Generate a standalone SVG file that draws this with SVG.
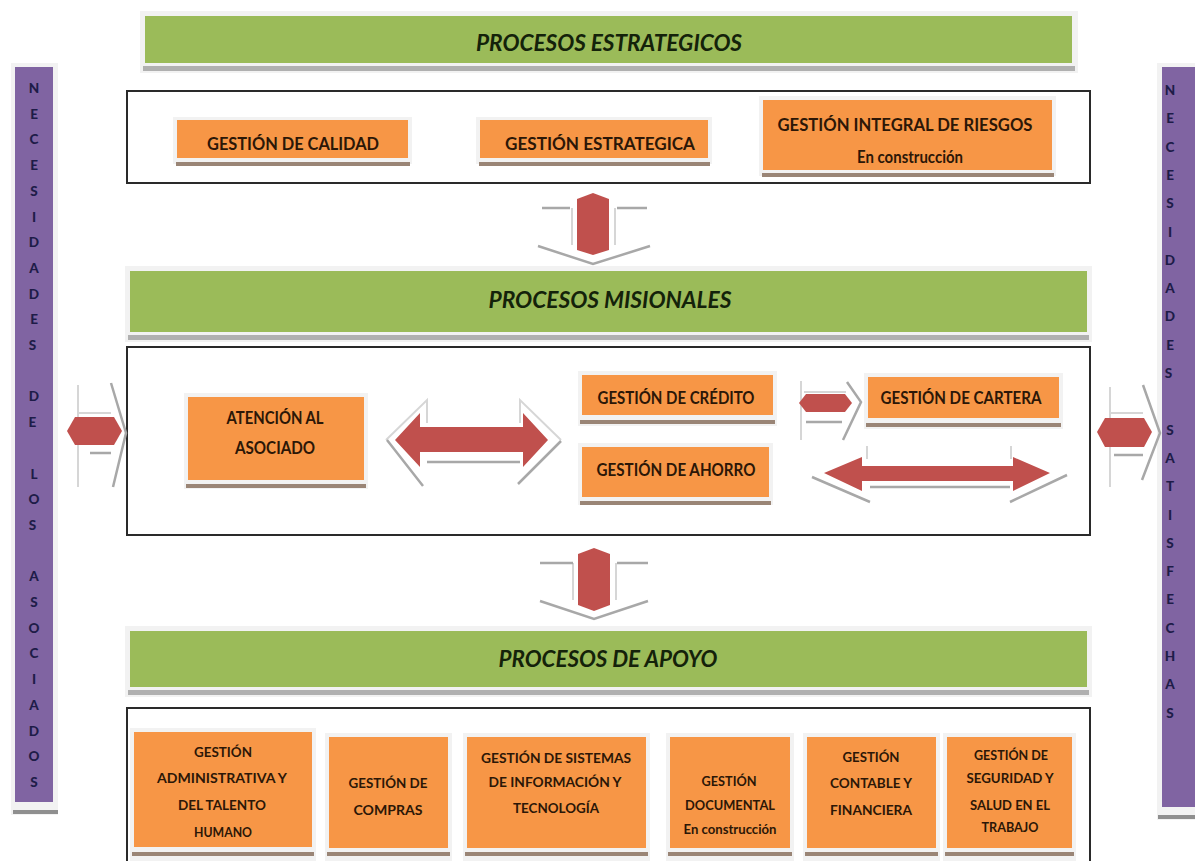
<svg xmlns="http://www.w3.org/2000/svg" width="1195" height="861" viewBox="0 0 1195 861">
<defs>
<style>
.t{font-family:"Lato","Liberation Sans",sans-serif;font-weight:700;fill:#2c1707;text-anchor:middle}
.f15{font-size:16.5px}
.f13{font-size:14px}
.f12{font-size:12.5px}
.ttl{font-family:"Lato","Liberation Sans",sans-serif;font-weight:700;font-style:italic;font-size:23px;fill:#14220a;text-anchor:middle}
.ltr{font-family:"Lato","Liberation Sans",sans-serif;font-weight:900;font-size:13.5px;fill:#1e1c48;text-anchor:middle}
.org{fill:#f79646}
.halo{fill:#f2f2f2}
.osh{fill:#9a8576}
.grn{fill:#9bbb59}
.gsh{fill:#b0b0b0}
.pur{fill:#8064a2}
.frame{fill:#ffffff;stroke:#2a2a2a;stroke-width:2}
.red{fill:#c0504d}
.gl{fill:none;stroke:#d6d6d6;stroke-width:2}
.gd{fill:none;stroke:#a8a8a8;stroke-width:2.5}
</style>
</defs>
<rect width="1195" height="861" fill="#ffffff"/>

<!-- side bars -->
<g id="left-bar">
<rect x="11" y="63" width="47" height="752" class="halo"/>
<rect x="13" y="810" width="45" height="4" fill="#8f8f8f"/>
<rect x="15" y="67" width="38" height="735" class="pur"/>
<text class="ltr">
<tspan x="34" y="93">N</tspan><tspan x="34" y="118.7">E</tspan><tspan x="34" y="144.4">C</tspan><tspan x="34" y="170.1">E</tspan><tspan x="34" y="195.8">S</tspan><tspan x="34" y="221.5">I</tspan><tspan x="34" y="247.2">D</tspan><tspan x="34" y="272.9">A</tspan><tspan x="34" y="298.6">D</tspan><tspan x="34" y="324.3">E</tspan><tspan x="34" y="350">S</tspan>
<tspan x="34" y="401.4">D</tspan><tspan x="34" y="427.1">E</tspan>
<tspan x="34" y="478.5">L</tspan><tspan x="34" y="504.2">O</tspan><tspan x="34" y="529.9">S</tspan>
<tspan x="34" y="581.3">A</tspan><tspan x="34" y="607">S</tspan><tspan x="34" y="632.7">O</tspan><tspan x="34" y="658.4">C</tspan><tspan x="34" y="684.1">I</tspan><tspan x="34" y="709.8">A</tspan><tspan x="34" y="735.5">D</tspan><tspan x="34" y="761.2">O</tspan><tspan x="34" y="786.9">S</tspan>
</text>
</g>
<g id="right-bar">
<rect x="1157" y="63" width="40" height="757" class="halo"/>
<rect x="1158" y="815" width="37" height="4" fill="#8f8f8f"/>
<rect x="1162" y="67" width="36" height="740" class="pur"/>
<text class="ltr">
<tspan x="1170" y="95">N</tspan><tspan x="1170" y="123.3">E</tspan><tspan x="1170" y="151.6">C</tspan><tspan x="1170" y="179.9">E</tspan><tspan x="1170" y="208.2">S</tspan><tspan x="1170" y="236.5">I</tspan><tspan x="1170" y="264.8">D</tspan><tspan x="1170" y="293.1">A</tspan><tspan x="1170" y="321.4">D</tspan><tspan x="1170" y="349.7">E</tspan><tspan x="1170" y="378">S</tspan>
<tspan x="1170" y="434.6">S</tspan><tspan x="1170" y="462.9">A</tspan><tspan x="1170" y="491.2">T</tspan><tspan x="1170" y="519.5">I</tspan><tspan x="1170" y="547.8">S</tspan><tspan x="1170" y="576.1">F</tspan><tspan x="1170" y="604.4">E</tspan><tspan x="1170" y="632.7">C</tspan><tspan x="1170" y="661">H</tspan><tspan x="1170" y="689.3">A</tspan><tspan x="1170" y="717.6">S</tspan>
</text>
</g>

<!-- banners -->
<g id="banner-estrategicos">
<rect x="140" y="11" width="938" height="62" class="halo"/>
<rect x="143" y="66" width="932" height="5" class="gsh"/>
<rect x="145" y="16" width="927" height="47" class="grn"/>
<text x="609" y="51" class="ttl" textLength="266" lengthAdjust="spacingAndGlyphs">PROCESOS ESTRATEGICOS</text>
</g>
<g id="banner-misionales">
<rect x="125" y="266" width="967" height="76" class="halo"/>
<rect x="128" y="335" width="961" height="5" class="gsh"/>
<rect x="130" y="271" width="957" height="61" class="grn"/>
<text x="610" y="308" class="ttl" textLength="243" lengthAdjust="spacingAndGlyphs">PROCESOS MISIONALES</text>
</g>
<g id="banner-apoyo">
<rect x="125" y="626" width="967" height="71" class="halo"/>
<rect x="128" y="690" width="961" height="5" class="gsh"/>
<rect x="130" y="631" width="957" height="56" class="grn"/>
<text x="608" y="667" class="ttl" textLength="219" lengthAdjust="spacingAndGlyphs">PROCESOS DE APOYO</text>
</g>

<!-- section frames -->
<rect id="frame-estrategicos" x="127" y="91" width="963" height="92" class="frame"/>
<rect id="frame-misionales" x="127" y="347" width="963" height="188" class="frame"/>
<rect id="frame-apoyo" x="127" y="708" width="963" height="170" class="frame"/>

<!-- estrategicos nodes -->
<g id="gestion-calidad">
<rect x="173" y="117" width="239" height="47" class="halo"/>
<rect x="176" y="162" width="234" height="4" class="osh"/>
<rect x="177" y="120" width="231" height="38" class="org"/>
<text x="293" y="150" class="t f15" textLength="172" lengthAdjust="spacingAndGlyphs">GESTIÓN DE CALIDAD</text>
</g>
<g id="gestion-estrategica">
<rect x="476" y="117" width="236" height="47" class="halo"/>
<rect x="479" y="162" width="231" height="4" class="osh"/>
<rect x="480" y="120" width="228" height="38" class="org"/>
<text x="600" y="150" class="t f15" textLength="190" lengthAdjust="spacingAndGlyphs">GESTIÓN ESTRATEGICA</text>
</g>
<g id="gestion-riesgos">
<rect x="759" y="96" width="297" height="80" class="halo"/>
<rect x="762" y="173" width="292" height="4" class="osh"/>
<rect x="763" y="100" width="289" height="70" class="org"/>
<text x="905" y="131" class="t f15" textLength="255" lengthAdjust="spacingAndGlyphs">GESTIÓN INTEGRAL DE RIESGOS</text>
<text x="910" y="163" class="t f15" textLength="106" lengthAdjust="spacingAndGlyphs">En construcción</text>
</g>

<!-- misionales nodes -->
<g id="atencion-asociado">
<rect x="184" y="393" width="184" height="96" class="halo"/>
<rect x="186" y="484" width="180" height="4" class="osh"/>
<rect x="188" y="397" width="176" height="83" class="org"/>
<text x="275" y="424" class="t f15" textLength="97" lengthAdjust="spacingAndGlyphs">ATENCIÓN AL</text>
<text x="275" y="454" class="t f15" textLength="80" lengthAdjust="spacingAndGlyphs">ASOCIADO</text>
</g>
<g id="gestion-credito">
<rect x="578" y="371" width="199" height="55" class="halo"/>
<rect x="580" y="420" width="195" height="4" class="osh"/>
<rect x="582" y="375" width="191" height="40" class="org"/>
<text x="676" y="404" class="t f15" textLength="157" lengthAdjust="spacingAndGlyphs">GESTIÓN DE CRÉDITO</text>
</g>
<g id="gestion-ahorro">
<rect x="578" y="443" width="195" height="62" class="halo"/>
<rect x="580" y="501" width="191" height="4" class="osh"/>
<rect x="582" y="447" width="187" height="50" class="org"/>
<text x="676" y="476" class="t f15" textLength="159" lengthAdjust="spacingAndGlyphs">GESTIÓN DE AHORRO</text>
</g>
<g id="gestion-cartera">
<rect x="864" y="373" width="199" height="56" class="halo"/>
<rect x="866" y="423" width="195" height="4" class="osh"/>
<rect x="868" y="377" width="191" height="41" class="org"/>
<text x="961" y="404" class="t f15" textLength="161" lengthAdjust="spacingAndGlyphs">GESTIÓN DE CARTERA</text>
</g>

<!-- apoyo nodes -->
<g id="gestion-administrativa">
<rect x="130" y="728" width="186" height="133" class="halo"/>
<rect x="132" y="852" width="182" height="4" class="osh"/>
<rect x="134" y="732" width="178" height="115" class="org"/>
<text x="223" y="757" class="t f13" textLength="58" lengthAdjust="spacingAndGlyphs">GESTIÓN</text>
<text x="222" y="783" class="t f13" textLength="130" lengthAdjust="spacingAndGlyphs">ADMINISTRATIVA Y</text>
<text x="222" y="810" class="t f13" textLength="88" lengthAdjust="spacingAndGlyphs">DEL TALENTO</text>
<text x="223" y="837" class="t f13" textLength="58" lengthAdjust="spacingAndGlyphs">HUMANO</text>
</g>
<g id="gestion-compras">
<rect x="325" y="733" width="127" height="128" class="halo"/>
<rect x="327" y="852" width="123" height="4" class="osh"/>
<rect x="329" y="737" width="119" height="111" class="org"/>
<text x="388" y="788" class="t f13" textLength="79" lengthAdjust="spacingAndGlyphs">GESTIÓN DE</text>
<text x="388" y="815" class="t f13" textLength="69" lengthAdjust="spacingAndGlyphs">COMPRAS</text>
</g>
<g id="gestion-sistemas">
<rect x="463" y="733" width="187" height="128" class="halo"/>
<rect x="465" y="852" width="183" height="4" class="osh"/>
<rect x="467" y="737" width="179" height="111" class="org"/>
<text x="556" y="763" class="t f13" textLength="150" lengthAdjust="spacingAndGlyphs">GESTIÓN DE SISTEMAS</text>
<text x="555" y="787" class="t f13" textLength="133" lengthAdjust="spacingAndGlyphs">DE INFORMACIÓN Y</text>
<text x="556" y="813" class="t f13" textLength="86" lengthAdjust="spacingAndGlyphs">TECNOLOGÍA</text>
</g>
<g id="gestion-documental">
<rect x="666" y="733" width="128" height="128" class="halo"/>
<rect x="668" y="852" width="124" height="4" class="osh"/>
<rect x="670" y="737" width="120" height="111" class="org"/>
<text x="729" y="786" class="t f12" textLength="55" lengthAdjust="spacingAndGlyphs">GESTIÓN</text>
<text x="730" y="810" class="t f12" textLength="90" lengthAdjust="spacingAndGlyphs">DOCUMENTAL</text>
<text x="730" y="834" class="t f12" textLength="93" lengthAdjust="spacingAndGlyphs">En construcción</text>
</g>
<g id="gestion-contable">
<rect x="803" y="733" width="137" height="128" class="halo"/>
<rect x="805" y="852" width="133" height="4" class="osh"/>
<rect x="807" y="737" width="129" height="111" class="org"/>
<text x="871" y="762" class="t f13" textLength="57" lengthAdjust="spacingAndGlyphs">GESTIÓN</text>
<text x="871" y="788" class="t f13" textLength="82" lengthAdjust="spacingAndGlyphs">CONTABLE Y</text>
<text x="871" y="815" class="t f13" textLength="82" lengthAdjust="spacingAndGlyphs">FINANCIERA</text>
</g>
<g id="gestion-seguridad">
<rect x="943" y="733" width="133" height="128" class="halo"/>
<rect x="945" y="852" width="129" height="4" class="osh"/>
<rect x="947" y="737" width="125" height="111" class="org"/>
<text x="1011" y="760" class="t f12" textLength="74" lengthAdjust="spacingAndGlyphs">GESTIÓN DE</text>
<text x="1010" y="783" class="t f12" textLength="87" lengthAdjust="spacingAndGlyphs">SEGURIDAD Y</text>
<text x="1010" y="810" class="t f12" textLength="80" lengthAdjust="spacingAndGlyphs">SALUD EN EL</text>
<text x="1010" y="832" class="t f12" textLength="57" lengthAdjust="spacingAndGlyphs">TRABAJO</text>
</g>

<!-- connectors -->
<g id="connectors">
<g id="arrow-v1">
<path class="gl" d="M572,208 V245 M615,208 V245"/>
<path class="gd" d="M542,208 H570 M617,208 H647 M538,246 L593,264 L650,246"/>
<polygon class="red" points="593,193 609,199 609,250 593,255 577,250 577,199"/>
</g>
<g id="arrow-v2">
<path class="gl" d="M573,563 V600 M616,563 V600"/>
<path class="gd" d="M540,563 H573 M617,563 H648 M540,601 L594,619 L648,601"/>
<polygon class="red" points="594,548 610,554 610,605 594,611 578,605 578,554"/>
</g>
<g id="arrow-left-outer">
<path class="gl" d="M78,385 V487 M78,413 H111"/>
<path class="gd" d="M111,383 L126,433 L113,487 M90,453 H111"/>
<polygon class="red" points="67,431 75,417 114,417 122,431 114,445 75,445"/>
</g>
<g id="arrow-right-outer">
<path class="gl" d="M1110,387 V487 M1110,413 H1143"/>
<path class="gd" d="M1143,385 L1160,433 L1142,480 M1114,455 H1143"/>
<polygon class="red" points="1097,432 1105,418 1144,418 1152,432 1144,447 1105,447"/>
</g>
<g id="arrow-atencion">
<path class="gl" d="M386,440 L427,400 V423 M520,423 V400 L561,440"/>
<path class="gd" d="M387,440 L423,486 M427,462 H520 M561,441 L518,484"/>
<polygon class="red" points="395,440 420,413 420,427 523,427 523,413 548,440 523,467 523,452 420,452 420,467"/>
</g>
<g id="arrow-credito-cartera">
<path class="gl" d="M801,381 V440 M804,392 H846"/>
<path class="gd" d="M847,382 L861,402 L843,440 M806,422 H842"/>
<polygon class="red" points="799,403 806,394 845,394 852,403 845,412 806,412"/>
</g>
<g id="arrow-long">
<path class="gl" d="M867,446 V459 M1011,446 V459"/>
<path class="gd" d="M812,477 L870,502 M870,487 H1010 M1067,475 L1010,502"/>
<polygon class="red" points="824,473 862,457 862,466 1013,466 1013,457 1050,473 1013,491 1013,481 862,481 862,491"/>
</g>
</g>
</svg>
